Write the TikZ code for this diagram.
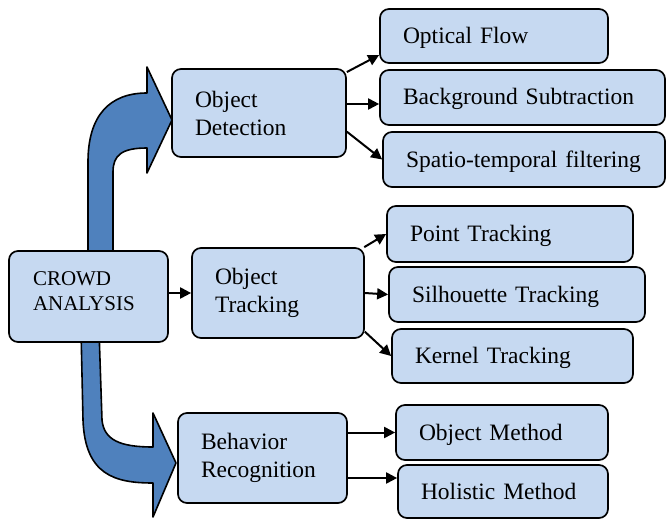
\documentclass[tikz,border=0pt]{standalone}
\usepackage{fontspec}
\setmainfont{Liberation Serif}
\usetikzlibrary{arrows.meta,calc}
\definecolor{boxfill}{HTML}{C6D9F1}
\definecolor{arrowfill}{HTML}{4F81BD}
\tikzset{
  box/.style={draw=black, line width=1.7pt, fill=boxfill, rounded corners=9pt,
    align=left, inner ysep=0pt, inner xsep=23pt, font=\fontsize{23.5}{28}\selectfont},
  leaf/.style={box, text height=19pt, text depth=4pt},
  arr/.style={line width=2pt, -{Triangle[length=11pt,width=11pt]}},
  bigarrow/.style={draw=black, line width=1.6pt, fill=arrowfill, line join=round}
}
\begin{document}
\begin{tikzpicture}[x=1pt,y=-1pt]
\useasboundingbox (0,0) rectangle (667,519);
% big curved arrows
\draw[bigarrow] (88,262) -- (88,162) .. controls (88,115) and (110,93) .. (147,93)
  -- (147,67) -- (172,120) -- (147,173) -- (147,148)
  .. controls (122,148) and (113,155) .. (113,172) -- (113,262) -- cycle;
\draw[bigarrow] (81,330) -- (83,420) .. controls (85,475) and (115,483) .. (153,483)
  -- (153,517) -- (176,463) -- (153,413) -- (153,447)
  .. controls (120,447) and (104,440) .. (102,420) -- (99,330) -- cycle;
% nodes
\node[box, inner xsep=24pt, font=\fontsize{21}{25}\selectfont, minimum width=159pt, minimum height=91pt, text width=111pt] (ca) at (88.5,296.5) {CROWD\\ANALYSIS\rule[-10pt]{0pt}{10pt}};
\node[box, minimum width=174pt, minimum height=88pt, text width=128pt] (od) at (259,113) {Object\\Detection};
\node[box, minimum width=172pt, minimum height=90pt, text width=126pt] (ot) at (278,293) {Object\\Tracking};
\node[box, minimum width=169pt, minimum height=90pt, text width=123pt] (br) at (262.5,458) {Behavior\\Recognition};
\node[leaf, minimum width=228pt, minimum height=54pt, text width=182pt] (of) at (494,36) {Optical Flow};
\node[leaf, minimum width=285pt, minimum height=55pt, text width=239pt] (bg) at (522.5,97.5) {Background Subtraction};
\node[leaf, minimum width=282pt, minimum height=55pt, text width=236pt] (st) at (524,159.5) {Spatio-temporal filtering};
\node[leaf, minimum width=246pt, minimum height=56pt, text width=200pt] (pt) at (510,234) {Point Tracking};
\node[leaf, minimum width=256pt, minimum height=55pt, text width=210pt] (si) at (517,294.5) {Silhouette Tracking};
\node[leaf, minimum width=241pt, minimum height=54pt, text width=195pt] (kt) at (512.5,356) {Kernel Tracking};
\node[leaf, minimum width=212pt, minimum height=55pt, text width=166pt] (om) at (502,432.5) {Object Method};
\node[leaf, minimum width=210pt, minimum height=53pt, text width=164pt] (hm) at (503,491.5) {Holistic Method};
% connectors
\draw[arr] (od.25) -- ([yshift=-19pt]of.west);
\draw[arr] ([yshift=9pt]od.east) -- ([yshift=-6.5pt]bg.west);
\draw[arr] (od.-12) -- (st.west);
\draw[arr] (ot.28) -- (pt.west);
\draw[arr] (ot.east) -- (si.west);
\draw[arr] (ot.-24) -- (kt.west);
\draw[arr] (ca.east |- ot.west) -- (ot.west);
\draw[arr] (br.east |- om.west) -- (om.west);
\draw[arr] ([yshift=-20pt]br.east) -- ([yshift=13.5pt]hm.west);
\end{tikzpicture}
\end{document}
